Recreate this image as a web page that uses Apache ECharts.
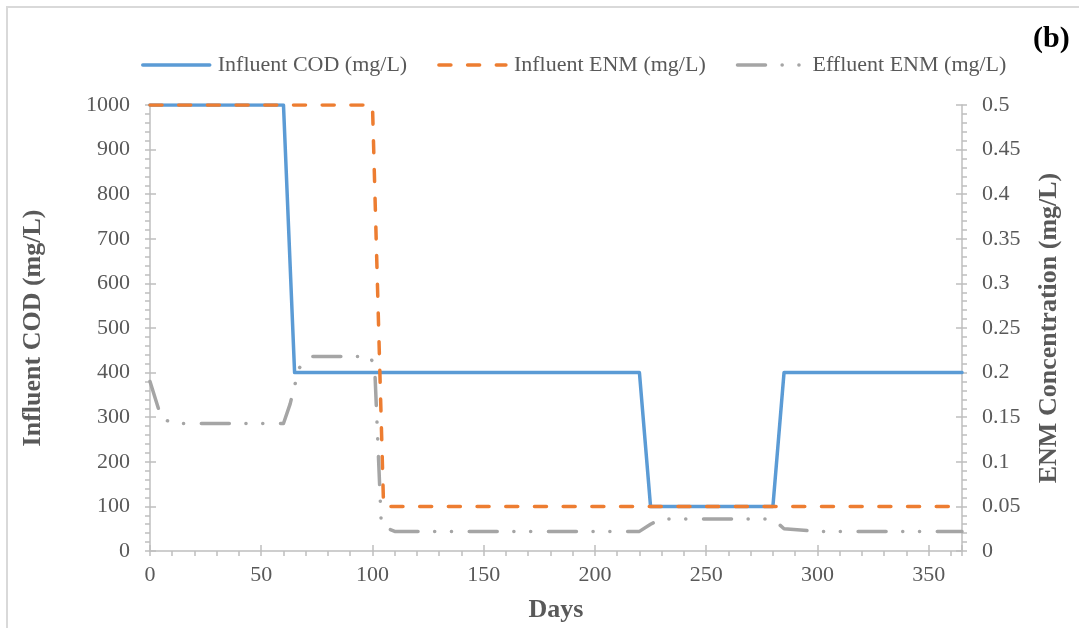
<!DOCTYPE html>
<html>
<head>
<meta charset="utf-8">
<script src="https://cdn.jsdelivr.net/npm/echarts@6/dist/echarts.min.js"></script>
<style>
  html, body { margin: 0; padding: 0; background: #ffffff; }
  #chart { width: 1079px; height: 628px; }
</style>
</head>
<body>
<div id="chart"></div>
<script>
// ---- Data ----
const seriesNames = ['Influent COD (mg/L)', 'Influent ENM (mg/L)', 'Effluent ENM (mg/L)'];

const codDays   = [0, 60, 65, 220, 225, 280, 285, 365];
const codValues = [1000, 1000, 400, 400, 100, 100, 400, 400];

const enmInDays   = [0, 100, 105, 365];
const enmInValues = [0.5, 0.5, 0.05, 0.05];

const enmOutDays   = [0, 5, 10, 60, 63, 67, 72, 99, 101, 104, 110, 220, 225, 230, 280, 285, 300, 365];
const enmOutValues = [0.19, 0.15, 0.143, 0.143, 0.165, 0.205, 0.218, 0.218, 0.206, 0.028, 0.022, 0.022, 0.030, 0.036, 0.036, 0.025, 0.022, 0.022];

const xTicks = { min: 0, max: 365, interval: 50 };
const codTicks = { min: 0, max: 1000, interval: 100 };
const enmTicks = { min: 0, max: 0.5, interval: 0.05 };

function pairs(xs, ys) { return xs.map((x, i) => [x, ys[i]]); }

// ---- Styles ----
const txt = '#595959';
const axisCol = '#BFBFBF';
const serif = '"Liberation Serif", "Times New Roman", serif';
const colors = ['#5B9BD5', '#ED7D31', '#A5A5A5'];
const lineTypes = ['solid', [12, 16.7], [28, 16.6, 0.1, 16.7, 0.1, 17.7]];

const chart = echarts.init(document.getElementById('chart'), null, { renderer: 'canvas' });

function tickAxisCommon() {
  return {
    axisLine: { show: true, onZero: false, lineStyle: { color: axisCol, width: 1.5 } },
    axisTick: { show: true, inside: false, length: 5, lineStyle: { color: axisCol, width: 1.5 } },
    minorTick: { show: true, splitNumber: 5, length: 5, lineStyle: { color: axisCol, width: 1.5 } },
    splitLine: { show: false },
    minorSplitLine: { show: false },
    axisLabel: { color: txt, fontFamily: serif, fontSize: 22 }
  };
}
function innerTickAxis() {
  return {
    axisLine: { show: false, onZero: false },
    axisTick: { show: true, inside: true, length: 6, lineStyle: { color: axisCol, width: 1.5 } },
    minorTick: { show: false },
    splitLine: { show: false },
    axisLabel: { show: false }
  };
}

const option = {
  backgroundColor: '#ffffff',
  animation: false,
  grid: { left: 150, right: 117, top: 105, bottom: 77, containLabel: false },
  legend: {
    data: seriesNames.map((n, i) => ({
      name: n,
      itemStyle: { opacity: 0, color: 'transparent', borderWidth: 0 },
      lineStyle: { color: colors[i], width: 3.5, type: lineTypes[i], cap: 'round', opacity: 1 }
    })),
    left: 136,
    top: 49,
    itemWidth: 67,
    itemHeight: 14,
    itemGap: 30,
    textStyle: { color: txt, fontFamily: serif, fontSize: 22, padding: [0, 0, 0, 3] }
  },
  graphic: [
    {
      type: 'rect',
      shape: { x: 7, y: 7, width: 1200, height: 800 },
      style: { fill: 'none', stroke: '#D9D9D9', lineWidth: 2 },
      silent: true
    },
    {
      type: 'text',
      left: 1033,
      top: 24,
      style: { text: '(b)', fill: '#000000', font: 'bold 30px "Liberation Serif", serif' }
    }
  ],
  xAxis: [
    Object.assign(tickAxisCommon(), {
      type: 'value',
      position: 'bottom',
      min: xTicks.min, max: xTicks.max, interval: xTicks.interval,
      name: 'Days',
      nameLocation: 'middle',
      nameGap: 46,
      nameTextStyle: { color: txt, fontFamily: serif, fontSize: 26, fontWeight: 'bold' },
      axisLabel: { color: txt, fontFamily: serif, fontSize: 22, margin: 13, showMaxLabel: false }
    }),
    Object.assign(innerTickAxis(), {
      type: 'value', position: 'bottom', offset: 0,
      min: xTicks.min, max: xTicks.max, interval: xTicks.interval
    })
  ],
  yAxis: [
    Object.assign(tickAxisCommon(), {
      type: 'value',
      position: 'left',
      min: codTicks.min, max: codTicks.max, interval: codTicks.interval,
      name: 'Influent COD (mg/L)',
      nameLocation: 'middle',
      nameGap: 104,
      nameRotate: 90,
      nameTextStyle: { color: txt, fontFamily: serif, fontSize: 26, fontWeight: 'bold' },
      axisLabel: { color: txt, fontFamily: serif, fontSize: 22, margin: 20, formatter: v => String(v) }
    }),
    Object.assign(tickAxisCommon(), {
      type: 'value',
      position: 'right',
      alignTicks: false,
      min: enmTicks.min, max: enmTicks.max, interval: enmTicks.interval,
      name: 'ENM Concentration (mg/L)',
      nameLocation: 'middle',
      nameGap: 74,
      nameRotate: 90,
      nameTextStyle: { color: txt, fontFamily: serif, fontSize: 26, fontWeight: 'bold' },
      axisLabel: { color: txt, fontFamily: serif, fontSize: 22, margin: 20 }
    }),
    Object.assign(innerTickAxis(), {
      type: 'value', position: 'left', offset: 0, alignTicks: false,
      min: codTicks.min, max: codTicks.max, interval: codTicks.interval
    }),
    Object.assign(innerTickAxis(), {
      type: 'value', position: 'right', offset: 0, alignTicks: false,
      min: enmTicks.min, max: enmTicks.max, interval: enmTicks.interval
    })
  ],
  series: [0, 1, 2].map(i => ({
    name: seriesNames[i],
    type: 'line',
    xAxisIndex: 0,
    yAxisIndex: i === 0 ? 0 : 1,
    data: i === 0 ? pairs(codDays, codValues) : (i === 1 ? pairs(enmInDays, enmInValues) : pairs(enmOutDays, enmOutValues)),
    showSymbol: false,
    symbol: 'none',
    lineStyle: { color: colors[i], width: 3.5, type: lineTypes[i], cap: 'round', join: 'round' },
    itemStyle: { color: colors[i] }
  }))
};

chart.setOption(option);
</script>
</body>
</html>
